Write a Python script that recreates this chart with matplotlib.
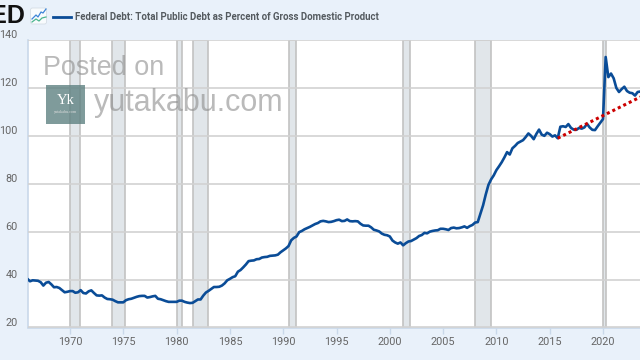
import numpy as np
import matplotlib.pyplot as plt
from matplotlib.patches import FancyBboxPatch, Rectangle

start_year = 1966
debt = [
    40.3, 39.3, 39.7, 39.6,
    39.5, 38.9, 37.5, 38.7,
    39.0, 38.0, 36.8, 36.9,
    36.5, 35.6, 34.7, 34.9,
    35.2, 35.2, 34.5, 34.7,
    35.6, 34.4, 34.2, 35.1,
    35.5, 34.4, 33.4, 33.3,
    33.4, 32.5, 31.9, 31.8,
    31.6, 31.0, 30.5, 30.5,
    30.5, 31.4, 31.8, 32.0,
    32.4, 32.8, 33.1, 33.2,
    33.2, 32.5, 32.7, 33.0,
    33.2, 32.0, 31.8, 31.4,
    31.0, 30.7, 30.7, 30.7,
    30.7, 31.2, 31.2, 30.7,
    30.4, 30.2, 30.3, 31.0,
    31.7, 31.7, 33.3, 34.6,
    35.3, 36.1, 36.9, 36.9,
    37.0, 37.5, 38.4, 39.7,
    40.3, 41.0, 41.4, 43.3,
    44.0, 45.1, 46.3, 47.7,
    47.9, 48.0, 48.5, 48.6,
    49.2, 49.4, 49.5, 49.9,
    50.0, 50.1, 50.4, 51.4,
    52.2, 53.0, 54.0, 56.4,
    57.4, 58.0, 59.8, 60.3,
    61.0, 61.5, 62.0, 62.6,
    63.2, 63.6, 64.3, 64.5,
    64.3, 64.0, 64.1, 64.4,
    64.8, 65.0, 64.4, 64.5,
    65.1, 64.4, 64.3, 64.4,
    64.3, 63.3, 62.6, 62.5,
    62.5, 61.8, 60.8, 60.5,
    60.1, 59.2, 58.7, 58.5,
    58.0, 56.3, 55.5, 55.0,
    55.5, 54.3, 55.2, 55.9,
    56.1, 56.7, 57.3, 58.2,
    58.6, 59.5, 59.3, 60.0,
    60.3, 60.5, 60.6, 61.2,
    61.2, 61.0, 60.7, 61.5,
    61.7, 61.4, 61.5, 61.8,
    62.2, 61.6, 62.3, 62.8,
    63.8, 64.0, 67.5, 71.0,
    75.5, 79.5, 81.8, 83.5,
    85.7, 87.3, 89.0, 91.0,
    93.2, 92.2, 94.8, 95.8,
    97.0, 97.6, 98.2, 99.5,
    101.0, 100.0, 98.6, 100.8,
    102.6, 100.5, 100.0, 101.3,
    100.7, 99.7, 100.2, 99.0,
    103.8, 104.0, 103.7, 104.9,
    103.3, 102.6, 102.5, 103.3,
    103.0, 103.5, 105.0, 103.5,
    102.5, 102.4, 104.0, 105.5,
    107.0, 132.9, 124.5, 126.0,
    124.0, 120.0, 118.3, 119.5,
    120.5, 118.7, 118.0, 117.8,
    116.8, 118.3, 118.5,
]
trend_years = [2015.75, 2023.5]
trend_values = [99, 116.2]
recessions = [(1970.0, 1970.9), (1973.9, 1975.2), (1980.0, 1980.5), (1981.5, 1982.9),
              (1990.5, 1991.2), (2001.2, 2001.9), (2008.0, 2009.5), (2020.0, 2020.25)]
y_ticks = [20, 40, 60, 80, 100, 120, 140]
x_ticks = [1970, 1975, 1980, 1985, 1990, 1995, 2000, 2005, 2010, 2015, 2020]
title = 'Federal Debt: Total Public Debt as Percent of Gross Domestic Product'

years = start_year + np.arange(len(debt)) / 4

plt.rcParams['font.family'] = ['Roboto', 'DejaVu Sans']
fig = plt.figure(figsize=(6.4, 3.6), dpi=100, facecolor='#e9f1fa')
ax = fig.add_axes([28 / 640, 1 - 327.5 / 360, 612 / 640, 287.5 / 360], facecolor='white')

for a, b in recessions:
    ax.axvspan(a, b, facecolor='#e1e6ea', edgecolor='#c2c2c2', lw=1.2, zorder=1)
ax.set_yticks(y_ticks)
ax.grid(axis='y', color='#d2d2d2', lw=1.2, zorder=2)
ax.set_axisbelow(False)
ax.plot(years, debt, color='#0a4c97', lw=1.9, zorder=4, solid_joinstyle='round')
ax.plot(trend_years, trend_values, color='#cc0000', lw=2.2, ls=(0, (1, 1)), zorder=5)

ax.set_xlim(1966.06, 2023.47)
ax.set_ylim(20, 140)
ax.set_xticks(x_ticks)
ax.set_xticklabels([str(x) for x in x_ticks])
ax.tick_params(axis='x', length=4, width=1, color='#c9d8ea', labelcolor='#666666', labelsize=7.8, pad=3)
ax.tick_params(axis='y', length=0, labelcolor='#666666', labelsize=7.8, pad=7.5)
for lab in ax.get_yticklabels():
    lab.set_verticalalignment('bottom')
for s in ['top', 'right']:
    ax.spines[s].set_visible(False)
ax.spines['left'].set_color('#c9d8ea')
ax.spines['bottom'].set_color('#c9d8ea')
ax.spines['left'].set_linewidth(1.2)
ax.spines['bottom'].set_linewidth(1.2)

# header and watermark, in pixel coordinates
over = fig.add_axes([0, 0, 1, 1], facecolor='none')
over.set_xlim(0, 640)
over.set_ylim(360, 0)
over.axis('off')

over.text(25, 16, 'FRED', ha='right', va='center', fontsize=18, fontweight='bold',
          family=['Liberation Sans'], color='#111111')
over.add_patch(FancyBboxPatch((31, 8.5), 15, 15, boxstyle='round,pad=0.5,rounding_size=2',
                              fc='#f8fbfd', ec='#d5dde5', lw=0.6))
over.plot([32, 36, 38, 41, 43, 46], [19, 15, 17, 12, 13, 9], color='#3d85d8', lw=0.9)
over.plot([32, 36, 39, 42, 46], [22, 19, 21, 18, 17], color='#4cb58f', lw=0.9)
over.plot([53, 71], [17, 17], color='#0a4c97', lw=2)
over.text(75, 16.5, title, ha='left', va='center', fontsize=6.9, fontweight='bold', color='#555b60')

wm = ['Liberation Sans']
over.text(43, 68, 'Posted on', ha='left', va='center', fontsize=19.4, family=wm, color='#8c8c8c', alpha=0.6)
over.text(94, 103, 'yutakabu.com', ha='left', va='center', fontsize=22, family=wm, color='#8c8c8c', alpha=0.6)
over.add_patch(Rectangle((46, 85), 39, 38.5, fc='#5f8282', ec='none', alpha=0.8))
over.text(65.5, 100, 'Yk', ha='center', va='center', fontsize=10.5, family=['Liberation Serif'], color='white')
over.text(65.5, 112.5, 'yutakabu.com', ha='center', va='center', fontsize=3, family=['Liberation Serif'], color='#dddddd')

fig.savefig('out.png', dpi=100, facecolor=fig.get_facecolor())
